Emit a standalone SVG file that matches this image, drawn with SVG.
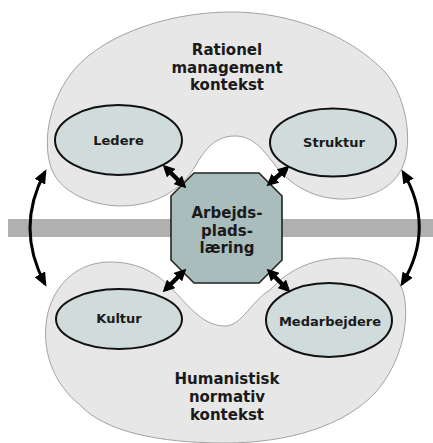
<svg xmlns="http://www.w3.org/2000/svg" width="433" height="443" viewBox="0 0 433 443">
  <defs>
    <style>
      .blob { fill: #e7e7e7; stroke: #a3a3a3; stroke-width: 1; }
      .node { fill: #d0dbdb; stroke: #111; stroke-width: 2; }
      .hub { fill: #a9bdbd; stroke: #222; stroke-width: 1.6; }
      .label { font-family: "DejaVu Sans", Verdana, sans-serif; font-weight: bold; fill: #1a1a1a; text-anchor: middle; }
      .big { font-size: 15px; }
      .small { font-size: 13px; }
      .link { fill: none; stroke: #000; stroke-width: 4.5; marker-start: url(#headS); marker-end: url(#headS); }
      .swing { fill: none; stroke: #000; stroke-width: 3; marker-start: url(#headL); marker-end: url(#headL); }
    </style>
    <marker id="headS" markerUnits="userSpaceOnUse" markerWidth="12" markerHeight="12" refX="8" refY="6" orient="auto-start-reverse">
      <path d="M0,0 L12,6 L0,12 Z" fill="#000"/>
    </marker>
    <marker id="headL" markerUnits="userSpaceOnUse" markerWidth="14" markerHeight="12" refX="11" refY="6" orient="auto-start-reverse">
      <path d="M0,0 L14,6 L0,12 Z" fill="#000"/>
    </marker>
  </defs>

  <rect id="band" x="8" y="219" width="425" height="18" fill="#b0b0b0"/>

  <g id="rationel-context">
    <path class="blob" d="M232,12 C290,12 350,35 385,72 C405,95 412,135 405,160 C398,185 375,198 345,199 C315,200 290,185 275,165 C262,148 252,136 235,136 C215,136 205,150 197,163 C188,180 170,200 135,205 C100,210 62,195 52,170 C42,145 48,105 70,75 C95,40 160,12 232,12 Z"/>
    <text class="label big" x="227" y="55">Rationel</text>
    <text class="label big" x="227" y="72.5">management</text>
    <text class="label big" x="227" y="90">kontekst</text>
  </g>

  <g id="humanistic-context">
    <path class="blob" d="M225,326 C242,326 252,300 270,290 C290,268 315,258 345,258 C375,258 398,270 404,295 C410,325 400,365 375,393 C345,425 290,443 225,443 C160,443 105,432 80,405 C55,385 43,355 46,325 C48,295 70,262 110,262 C140,262 160,275 175,292 C192,310 205,326 225,326 Z"/>
    <text class="label big" x="227" y="383.5">Humanistisk</text>
    <text class="label big" x="227" y="402">normativ</text>
    <text class="label big" x="227" y="420">kontekst</text>
  </g>

  <g id="ledere">
    <ellipse class="node" cx="118.5" cy="140" rx="63.5" ry="35"/>
    <text class="label small" x="118.5" y="145">Ledere</text>
  </g>

  <g id="struktur">
    <ellipse class="node" cx="333" cy="142.5" rx="63" ry="34"/>
    <text class="label small" x="334" y="147">Struktur</text>
  </g>

  <g id="kultur">
    <ellipse class="node" cx="119" cy="319" rx="63" ry="30"/>
    <text class="label small" x="119" y="323">Kultur</text>
  </g>

  <g id="medarbejdere">
    <ellipse class="node" cx="329" cy="320" rx="63" ry="37"/>
    <text class="label small" x="330" y="326">Medarbejdere</text>
  </g>

  <g id="arbejdspladslaering">
    <polygon class="hub" points="194,173 259,173 282,196 282,260 259,283 194,283 171,260 171,196"/>
    <text class="label big" x="227" y="218">Arbejds-</text>
    <text class="label big" x="227" y="235.5">plads-</text>
    <text class="label big" x="227" y="253">læring</text>
  </g>

  <g id="connectors">
    <path class="link" d="M165.5,167.5 L183.5,185.5"/>
    <path class="link" d="M286.5,168.5 L269.5,183.5"/>
    <path class="link" d="M165.5,289.5 L183.5,271.5"/>
    <path class="link" d="M269.5,271.5 L287.5,289.5"/>
    <path class="swing" d="M45,172 Q15,228 45,284"/>
    <path class="swing" d="M403,172 Q436,228 402,284"/>
  </g>
</svg>
